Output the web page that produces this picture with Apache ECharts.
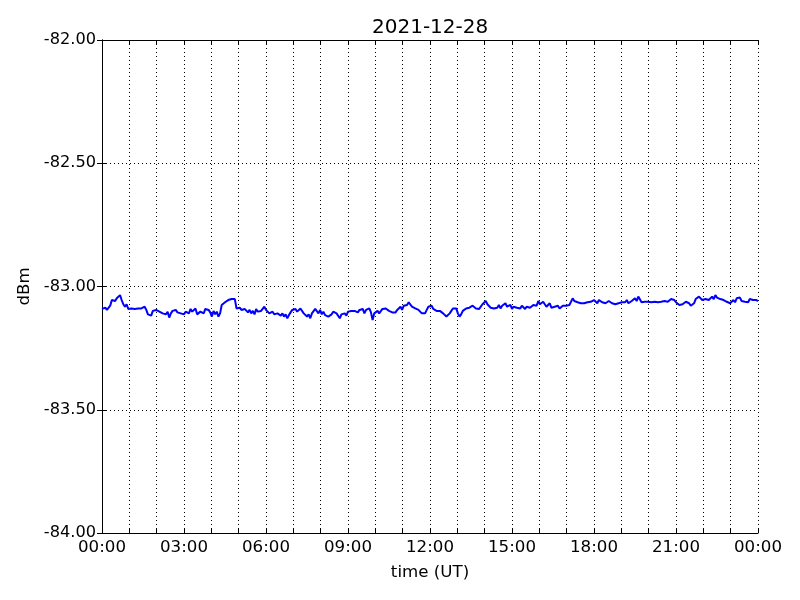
<!DOCTYPE html>
<html><head><meta charset="utf-8">
<script src="https://cdn.jsdelivr.net/npm/echarts@6/dist/echarts.min.js"></script>
<style>html,body{margin:0;padding:0;background:#fff}#c{width:800px;height:600px}</style>
</head><body><div id="c"></div>
<script>
const title = "2021-12-28";
// readings sampled every 0.06 h (3.6 min) from 00:00 to 24:00
const sampleStepHours = 0.06;
const dbm00to04 = [-83.091,-83.091,-83.086,-83.095,-83.089,-83.078,-83.055,-83.051,-83.059,-83.048,-83.045,-83.035,-83.055,-83.072,-83.082,-83.072,-83.091,-83.095,-83.089,-83.095,-83.091,-83.097,-83.089,-83.094,-83.089,-83.086,-83.082,-83.095,-83.113,-83.105,-83.118,-83.099,-83.105,-83.095,-83.089,-83.102,-83.097,-83.109,-83.105,-83.113,-83.102,-83.126,-83.109,-83.099,-83.102,-83.095,-83.105,-83.099,-83.109,-83.102,-83.113,-83.102,-83.099,-83.109,-83.091,-83.102,-83.095,-83.089,-83.113,-83.105,-83.102,-83.095,-83.109,-83.091,-83.086];
const dbm04to08 = [-83.095,-83.105,-83.122,-83.099,-83.113,-83.102,-83.122,-83.109,-83.075,-83.068,-83.064,-83.062,-83.055,-83.059,-83.051,-83.055,-83.051,-83.089,-83.095,-83.086,-83.095,-83.102,-83.091,-83.099,-83.105,-83.095,-83.109,-83.099,-83.113,-83.091,-83.102,-83.109,-83.099,-83.091,-83.082,-83.095,-83.099,-83.109,-83.105,-83.102,-83.113,-83.105,-83.109,-83.102,-83.118,-83.109,-83.122,-83.113,-83.129,-83.116,-83.105,-83.095,-83.099,-83.091,-83.102,-83.095,-83.089,-83.095,-83.109,-83.116,-83.122,-83.113,-83.129,-83.109,-83.116,-83.091];
const dbm08to12 = [-83.099,-83.109,-83.095,-83.113,-83.102,-83.116,-83.109,-83.122,-83.129,-83.113,-83.102,-83.099,-83.109,-83.116,-83.129,-83.113,-83.105,-83.109,-83.118,-83.102,-83.095,-83.099,-83.091,-83.099,-83.095,-83.105,-83.095,-83.102,-83.091,-83.109,-83.095,-83.102,-83.089,-83.105,-83.136,-83.109,-83.102,-83.099,-83.109,-83.102,-83.091,-83.086,-83.089,-83.091,-83.099,-83.091,-83.105,-83.113,-83.105,-83.095,-83.099,-83.082,-83.095,-83.078,-83.086,-83.075,-83.064,-83.072,-83.082,-83.078,-83.089,-83.086,-83.095,-83.099,-83.109,-83.102];
const dbm12to16 = [-83.109,-83.095,-83.082,-83.089,-83.078,-83.091,-83.086,-83.099,-83.105,-83.099,-83.102,-83.109,-83.113,-83.122,-83.116,-83.109,-83.099,-83.089,-83.082,-83.089,-83.109,-83.122,-83.113,-83.099,-83.095,-83.089,-83.091,-83.086,-83.082,-83.078,-83.086,-83.089,-83.082,-83.091,-83.089,-83.072,-83.068,-83.059,-83.072,-83.078,-83.086,-83.078,-83.089,-83.082,-83.086,-83.075,-83.089,-83.078,-83.086,-83.068,-83.082,-83.089,-83.075,-83.091,-83.082,-83.078,-83.086,-83.082,-83.089,-83.078,-83.086,-83.091,-83.082,-83.075,-83.086,-83.078];
const dbm16to20 = [-83.075,-83.068,-83.078,-83.059,-83.072,-83.078,-83.062,-83.068,-83.082,-83.075,-83.068,-83.086,-83.091,-83.082,-83.086,-83.078,-83.089,-83.082,-83.078,-83.086,-83.078,-83.082,-83.075,-83.068,-83.048,-83.059,-83.062,-83.064,-83.059,-83.068,-83.062,-83.068,-83.072,-83.064,-83.068,-83.062,-83.064,-83.055,-83.062,-83.068,-83.055,-83.059,-83.064,-83.062,-83.068,-83.072,-83.059,-83.055,-83.068,-83.062,-83.072,-83.064,-83.068,-83.075,-83.064,-83.072,-83.064,-83.055,-83.068,-83.062,-83.059,-83.051,-83.048,-83.059,-83.041,-83.048,-83.064,-83.059,-83.062];
const dbm20to24 = [-83.059,-83.062,-83.055,-83.064,-83.059,-83.062,-83.055,-83.064,-83.059,-83.062,-83.055,-83.059,-83.051,-83.062,-83.055,-83.051,-83.059,-83.055,-83.064,-83.068,-83.075,-83.082,-83.072,-83.068,-83.062,-83.059,-83.068,-83.078,-83.086,-83.068,-83.051,-83.045,-83.041,-83.048,-83.055,-83.062,-83.051,-83.059,-83.055,-83.048,-83.041,-83.051,-83.035,-83.045,-83.037,-83.051,-83.045,-83.055,-83.051,-83.062,-83.059,-83.068,-83.062,-83.055,-83.064,-83.048,-83.055,-83.045,-83.059,-83.051,-83.062,-83.055,-83.064,-83.051,-83.059,-83.055,-83.048,-83.055,-83.059];
const xTickHours = [0, 3, 6, 9, 12, 15, 18, 21, 24];
const yTicks = [-84, -83.5, -83, -82.5, -82];

const font = 'DejaVu Sans';
const dbm = [].concat(dbm00to04, dbm04to08, dbm08to12, dbm12to16, dbm16to20, dbm20to24);
const data = dbm.map((v, i) => [+(i * sampleStepHours).toFixed(3), v]);
const tickStyle = {show: true, inside: true, length: 5, lineStyle: {color: '#000', width: 1}};
const axisLine = {show: true, lineStyle: {color: '#000', width: 1}};
const grid = {color: '#000', type: [1, 3], width: 1};
const chart = echarts.init(document.getElementById('c'), null, {renderer: 'canvas'});
chart.setOption({
  animation: false,
  backgroundColor: '#fff',
  title: {text: title, left: 372, top: 18, padding: 0, textStyle: {fontFamily: font, fontSize: 20, fontWeight: 'normal', color: '#000'}},
  grid: {left: 102, right: 42, top: 40, bottom: 67, containLabel: false},
  xAxis: [{
    type: 'value', min: 0, max: 24, interval: 1,
    name: 'time (UT)', nameLocation: 'middle', nameGap: 31,
    nameTextStyle: {fontFamily: font, fontSize: 16.67, color: '#000'},
    axisLine: axisLine, axisTick: tickStyle,
    axisLabel: {fontFamily: font, fontSize: 16.67, color: '#000', margin: 6,
      formatter: v => xTickHours.includes(v) ? String(v % 24).padStart(2, '0') + ':00' : ''},
    splitLine: {show: true, lineStyle: grid}
  }, {
    type: 'value', min: 0, max: 24, interval: 1, position: 'top',
    axisLine: axisLine, axisTick: tickStyle, axisLabel: {show: false}, splitLine: {show: false}
  }],
  yAxis: [{
    type: 'value', min: yTicks[0], max: yTicks[yTicks.length - 1], interval: 0.5,
    name: 'dBm', nameLocation: 'middle', nameGap: 67, nameRotate: 90,
    nameTextStyle: {fontFamily: font, fontSize: 16.67, color: '#000'},
    axisLine: axisLine, axisTick: tickStyle,
    axisLabel: {fontFamily: font, fontSize: 16.2, color: '#000', margin: 6, formatter: v => v.toFixed(2)},
    splitLine: {show: true, lineStyle: grid}
  }, {
    type: 'value', min: yTicks[0], max: yTicks[yTicks.length - 1], interval: 0.5, position: 'right',
    axisLine: axisLine, axisTick: tickStyle, axisLabel: {show: false}, splitLine: {show: false}
  }],
  series: [{
    type: 'line', data: data, showSymbol: false, symbol: 'none',
    lineStyle: {color: '#0000ff', width: 2}
  }]
});
</script></body></html>
